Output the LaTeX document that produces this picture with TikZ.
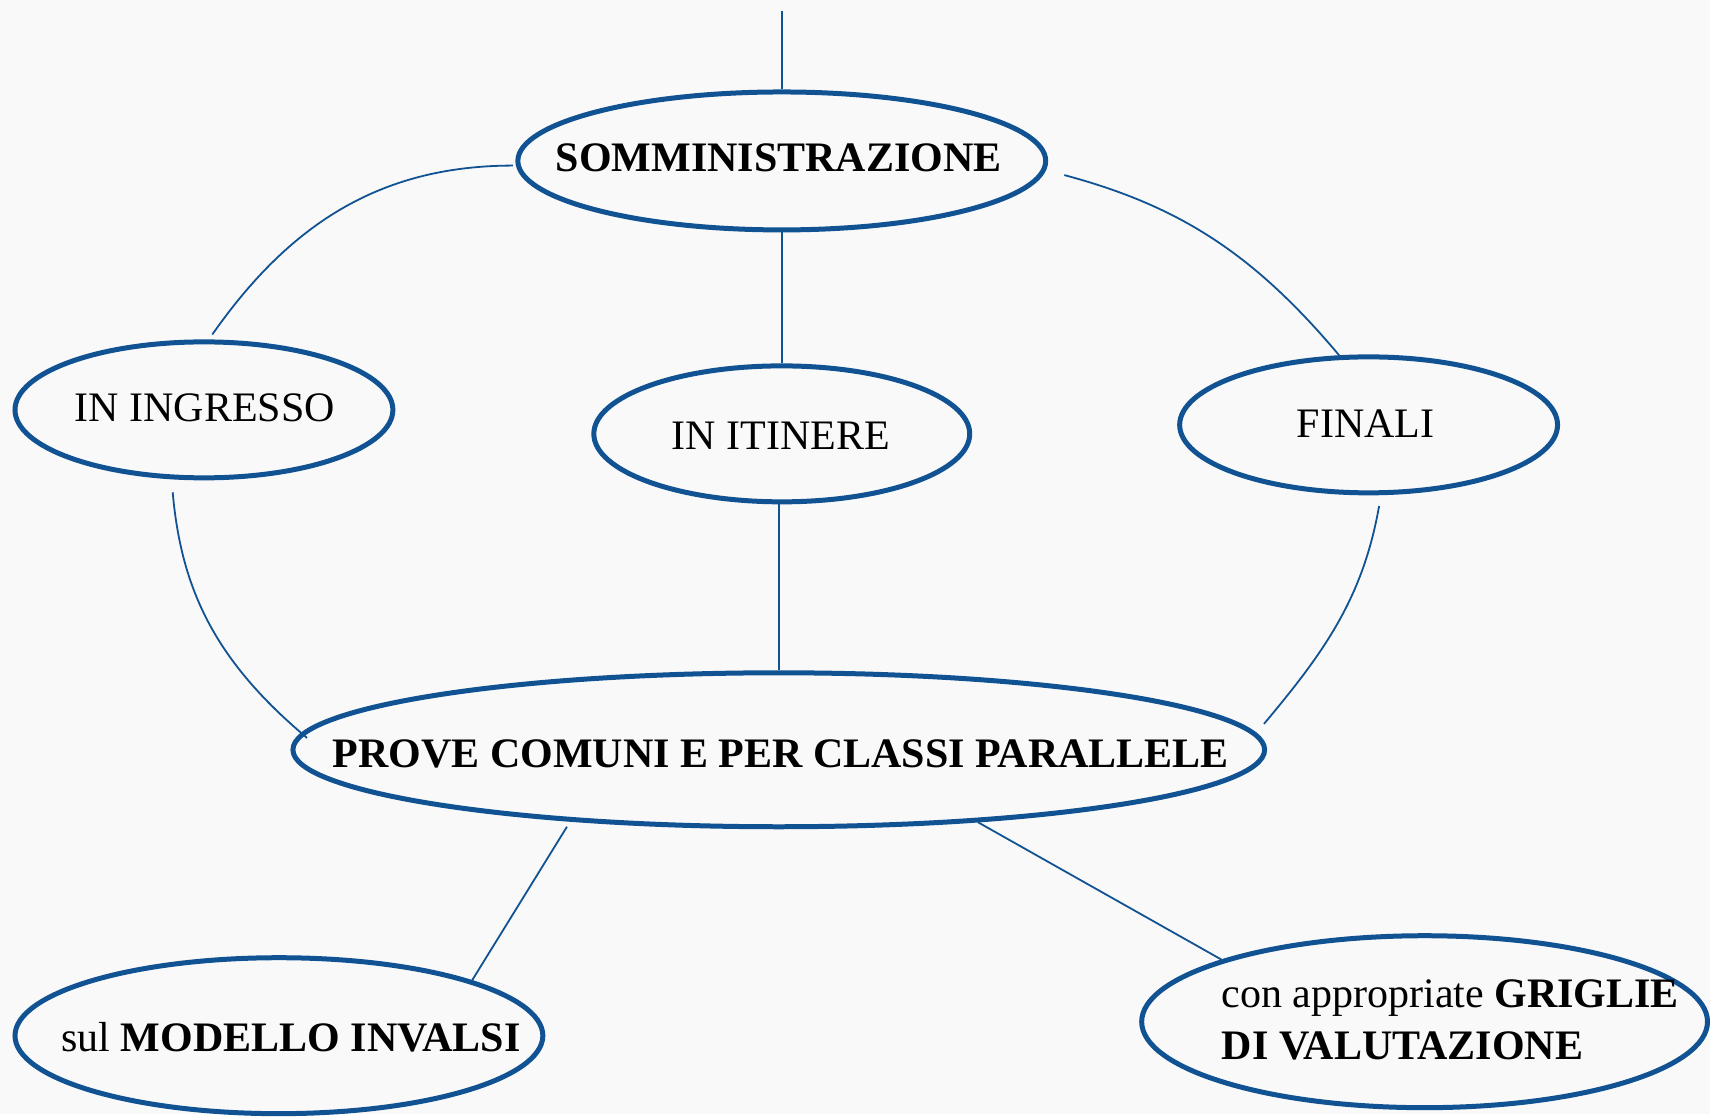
\documentclass[tikz,border=0pt]{standalone}
\usepackage{fontspec}
\setmainfont{Liberation Serif}
\usetikzlibrary{shapes.geometric}
\definecolor{eblue}{RGB}{17,82,147}
\definecolor{bgc}{RGB}{249,249,249}
\begin{document}
\begin{tikzpicture}[x=1pt,y=1pt,
  oval/.style={ellipse, draw=eblue, line width=5pt, inner sep=0pt},
  conn/.style={draw=eblue, line width=1.8pt},
  lbl/.style={font=\fontsize{42}{52}\selectfont, text=black, inner sep=0pt, anchor=base}]
\path[fill=bgc] (0,0) rectangle (1710,1114);
% ellipses
\node[oval, minimum width=528pt, minimum height=138pt] (somm) at (782,953) {};
\node[oval, minimum width=378pt, minimum height=136pt] (ingr) at (204,704) {};
\node[oval, minimum width=376pt, minimum height=136pt] (itin) at (782,680) {};
\node[oval, minimum width=378pt, minimum height=136pt] (fin) at (1369,689) {};
\node[oval, minimum width=972pt, minimum height=154pt] (prove) at (779,364) {};
\node[oval, minimum width=528pt, minimum height=156pt] (mod) at (279,78) {};
\node[oval, minimum width=566pt, minimum height=172pt] (grig) at (1425,92) {};
% texts
\node[lbl] (tsomm) at (779,942) {\textbf{SOMMINISTRAZIONE}};
\node[lbl] (tingr) at (205,692) {IN INGRESSO};
\node[lbl] (titin) at (781,664) {IN ITINERE};
\node[lbl] (tfin) at (1366,676) {FINALI};
\node[lbl] (tprove) at (781,346) {\textbf{PROVE COMUNI E PER CLASSI PARALLELE}};
\node[lbl] (tmod) at (291,62) {sul \textbf{MODELLO INVALSI}};
\node[lbl, anchor=base west, align=left] (tgrig) at (1222,54) {con appropriate \textbf{GRIGLIE}\\\textbf{DI VALUTAZIONE}};
% connectors
\coordinate (topend) at (782,1103);
\draw[conn] (topend) -- (somm.north);
\draw[conn] (somm.south) -- (itin.north);
\draw[conn] (prove.north |- itin.south) -- (prove.north);
\draw[conn, shorten <=3pt, shorten >=6pt] (somm.181) to[out=180,in=55] (ingr.86);
\draw[conn, shorten <=19pt] (somm.358) to[out=-15,in=130] (fin.113);
\draw[conn, shorten <=13pt, shorten >=-7.5pt] (ingr.245) to[out=-85,in=140] (prove.178);
\draw[conn, shorten <=11pt, shorten >=12pt] (fin.280) to[out=-100,in=50] (prove.2);
\draw[conn, shorten <=6pt] (prove.199) -- (mod.16);
\draw[conn] (prove.340) -- (grig.163);
\end{tikzpicture}
\end{document}
